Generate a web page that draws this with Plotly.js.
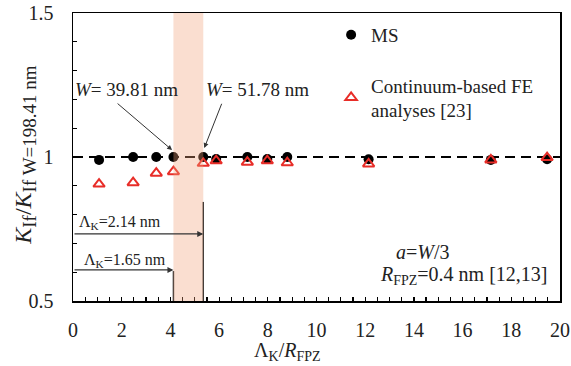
<!DOCTYPE html>
<html>
<head>
<meta charset="utf-8">
<script src="https://cdn.plot.ly/plotly-3.0.1.min.js"></script>
<style>
html,body{margin:0;padding:0;background:#fff;}
#chart{width:571px;height:366px;}
</style>
</head>
<body>
<div id="chart"></div>
<script>
// ---- data ----
const ratio = [1.07, 2.47, 3.42, 4.125, 5.35, 5.88, 7.16, 7.98, 8.8, 12.14, 17.16, 19.47];
const msValues = [0.99, 1.0, 1.0, 1.0, 1.0, 0.993, 1.0, 0.993, 1.0, 0.992, 0.99, 0.992];
const feValues = [0.906, 0.911, 0.944, 0.949, 0.978, 0.987, 0.982, 0.987, 0.98, 0.976, 0.99, 0.998];
const lambdaK = [1.65, 2.14];
const rFPZ = 0.4;
const widthLabels = ['<i>W</i>= 39.81 nm', '<i>W</i>= 51.78 nm'];
const refLevel = 1.0;

const SERIF = 'Liberation Serif';
const xBand0 = lambdaK[0] / rFPZ;
const xBand1 = lambdaK[1] / rFPZ;
function f(size) { return {family: SERIF, size: size, color: '#222'}; }

const traces = [
  {
    x: ratio, y: msValues, type: 'scatter', mode: 'markers', name: 'MS',
    marker: {symbol: 'circle', size: 10, color: '#000'},
    legend: 'legend', cliponaxis: false
  },
  {
    x: ratio, y: feValues, type: 'scatter', mode: 'markers', name: 'Continuum-based FE<br>analyses [23]',
    marker: {symbol: 'triangle-up-open', size: 10, color: 'rgb(232,45,40)', line: {width: 2, color: 'rgb(232,45,40)'}},
    legend: 'legend2', cliponaxis: false
  }
];

const layout = {
  width: 571, height: 366,
  margin: {l: 73, r: 11, t: 13, b: 65},
  paper_bgcolor: '#fff', plot_bgcolor: '#fff',
  font: f(19),
  showlegend: true,
  legend: {x: 0.53, y: 0.99, xanchor: 'left', yanchor: 'top', font: f(19), bgcolor: 'rgba(0,0,0,0)'},
  legend2: {x: 0.53, y: 0.815, xanchor: 'left', yanchor: 'top', font: f(19), bgcolor: 'rgba(0,0,0,0)'},
  xaxis: {
    range: [0, 20], dtick: 2, tick0: 0, ticks: 'inside', ticklen: 4, tickwidth: 1.2, tickcolor: '#000',
    minor: {dtick: 0.5, tick0: 0, ticks: 'inside', ticklen: 4, tickwidth: 1.2, tickcolor: '#000', showgrid: false},
    showgrid: false, zeroline: false, showline: true, linecolor: '#000', linewidth: 1.5, mirror: true,
    ticklabelstandoff: 10,
    tickfont: f(20)
  },
  yaxis: {
    range: [0.5, 1.5], dtick: 0.5, tick0: 0.5, ticks: 'inside', ticklen: 4, tickwidth: 1.2, tickcolor: '#000',
    minor: {dtick: 0.1, tick0: 0.5, ticks: 'inside', ticklen: 4, tickwidth: 1.2, tickcolor: '#000', showgrid: false},
    showgrid: false, zeroline: false, showline: true, linecolor: '#000', linewidth: 1.5, mirror: true,
    ticklabelstandoff: 14,
    tickfont: f(20)
  },
  shapes: [
    {type: 'line', xref: 'x', yref: 'y', x0: 0, x1: 20, y0: refLevel, y1: refLevel, layer: 'below',
     line: {color: '#000', width: 1.8, dash: '10px,6px'}},
    {type: 'line', xref: 'x', yref: 'y', x0: xBand0, x1: xBand0, y0: 0.5, y1: 0.604, line: {color: '#333', width: 1.5}},
    {type: 'line', xref: 'x', yref: 'y', x0: xBand1, x1: xBand1, y0: 0.5, y1: 0.844, line: {color: '#333', width: 1.5}},
    {type: 'rect', xref: 'x', yref: 'y', x0: xBand0, x1: xBand1, y0: 0.5, y1: 1.5, layer: 'above',
     fillcolor: 'rgb(240,160,120)', opacity: 0.35, line: {width: 0}}
  ],
  annotations: [
    {xref: 'x', yref: 'y', x: 2.18, y: 1.233, text: widthLabels[0], showarrow: false, font: f(19)},
    {xref: 'x', yref: 'y', x: 7.57, y: 1.233, text: widthLabels[1], showarrow: false, font: f(19)},
    {xref: 'x', yref: 'y', x: 4.07, y: 1.024, axref: 'x', ayref: 'y', ax: 1.77, ay: 1.19, text: '', showarrow: true,
     arrowhead: 2, arrowsize: 1, arrowwidth: 1, arrowcolor: '#333'},
    {xref: 'x', yref: 'y', x: 5.39, y: 1.031, axref: 'x', ayref: 'y', ax: 6.13, ay: 1.19, text: '', showarrow: true,
     arrowhead: 2, arrowsize: 1, arrowwidth: 1, arrowcolor: '#333'},
    {xref: 'x', yref: 'y', x: xBand1, y: 0.733, axref: 'x', ayref: 'y', ax: 0, ay: 0.733, text: '', showarrow: true,
     arrowhead: 2, arrowsize: 1, arrowwidth: 1.2, arrowcolor: '#333'},
    {xref: 'x', yref: 'y', x: xBand0, y: 0.608, axref: 'x', ayref: 'y', ax: 0, ay: 0.608, text: '', showarrow: true,
     arrowhead: 2, arrowsize: 1, arrowwidth: 1.2, arrowcolor: '#333'},
    {xref: 'x', yref: 'y', x: 0.16, y: 0.771, xanchor: 'left', text: 'Λ<sub>K</sub>=' + lambdaK[1].toFixed(2) + ' nm', showarrow: false, font: f(16)},
    {xref: 'x', yref: 'y', x: 0.37, y: 0.642, xanchor: 'left', text: 'Λ<sub>K</sub>=' + lambdaK[0].toFixed(2) + ' nm', showarrow: false, font: f(16)},
    {xref: 'x', yref: 'y', x: 14.36, y: 0.670, text: '<i>a</i>=<i>W</i>/3', showarrow: false, font: f(20)},
    {xref: 'x', yref: 'y', x: 19.59, y: 0.590, xanchor: 'right', text: '<i>R</i><sub>FPZ</sub>=' + rFPZ + ' nm [12,13]', showarrow: false, font: f(20)},
    {xref: 'paper', yref: 'paper', x: 0.44, y: -0.177, yanchor: 'middle', text: 'Λ<sub>K</sub>/<i>R</i><sub>FPZ</sub>', showarrow: false, font: f(20)},
    {xref: 'paper', yref: 'paper', x: -0.099, y: 0.507, xanchor: 'center', yanchor: 'middle', textangle: -90,
     text: '<i>K</i><sub><span style="font-size:19px">If</span></sub>/<i>K</i><sub><span style="font-size:19px">If W=198.41 nm</span></sub>',
     showarrow: false, font: f(24)}
  ]
};

Plotly.newPlot('chart', traces, layout, {displayModeBar: false, staticPlot: true}).then(function (gd) {
  gd.querySelectorAll('text').forEach(function (t) {
    t.setAttribute('font-family', SERIF);
    t.style.fontFamily = SERIF;
  });
});
</script>
</body>
</html>
